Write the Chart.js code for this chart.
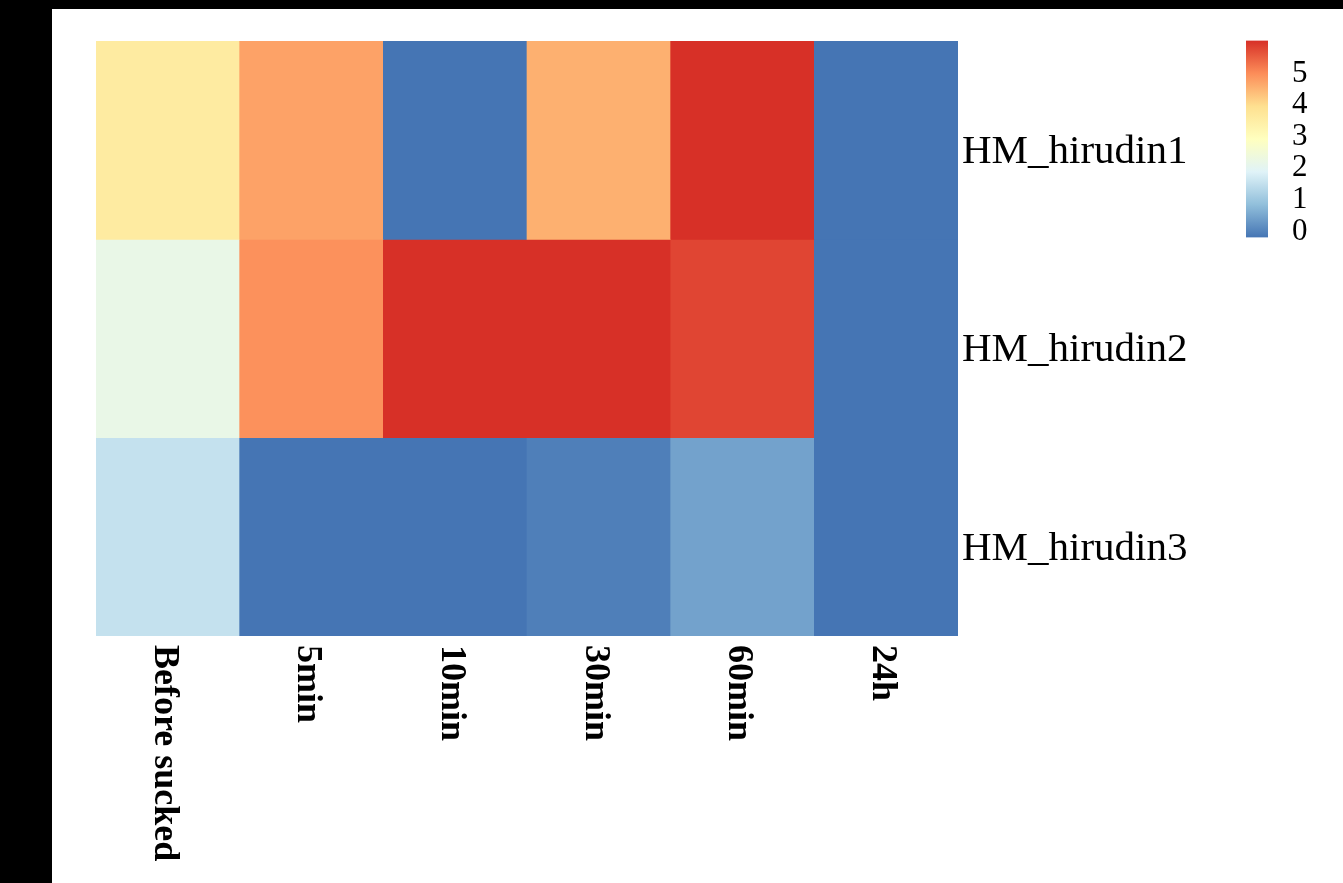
<!DOCTYPE html>
<html>
<head>
<meta charset="utf-8">
<title>HM_hirudin expression heatmap</title>
<script src="https://cdn.jsdelivr.net/npm/chart.js@4/dist/chart.umd.min.js"></script>
<style>
  html, body { margin: 0; padding: 0; background: #000; }
  body { width: 1343px; height: 883px; position: relative; overflow: hidden; }
  #sheet { position: absolute; left: 52px; top: 9px; width: 1291px; height: 874px; background: #fff; }
  #heat { position: absolute; left: 52px; top: 9px; }
  #scale { position: absolute; left: 1246px; top: -2px; }
</style>
</head>
<body>
<div id="sheet"></div>
<canvas id="heat" width="1146" height="874"></canvas>
<canvas id="scale" width="92" height="282"></canvas>
<script>
// Time points (columns) and genes (rows)
const timePoints = ['Before sucked', '5min', '10min', '30min', '60min', '24h'];
const genes = ['HM_hirudin1', 'HM_hirudin2', 'HM_hirudin3'];

// Expression values per gene, one per time point
const hirudin1 = [3.58, 4.74, -0.19, 4.56, 6.04, -0.19];
const hirudin2 = [2.20, 4.95, 6.04, 6.04, 5.80, -0.19];
const hirudin3 = [1.52, -0.19, -0.19, -0.05, 0.44, -0.19];

// Colour bar tick labels
const scaleTicks = [0, 1, 2, 3, 4, 5];

const rows = [hirudin1, hirudin2, hirudin3];
const allValues = rows.flat();
const vMin = Math.min(...allValues);
const vMax = Math.max(...allValues);

// Reversed RdYlBu palette, blue (low) to red (high)
const palette = ['#4575B4', '#91BFDB', '#E0F3F8', '#FFFFBF', '#FEE090', '#FC8D59', '#D73027'];

function hexToRgb(h) {
  const n = parseInt(h.slice(1), 16);
  return [(n >> 16) & 255, (n >> 8) & 255, n & 255];
}
const paletteRgb = palette.map(hexToRgb);

function colourFor(v) {
  let t = (v - vMin) / (vMax - vMin);
  t = Math.max(0, Math.min(1, t));
  const pos = t * (paletteRgb.length - 1);
  const i = Math.min(Math.floor(pos), paletteRgb.length - 2);
  const f = pos - i;
  const a = paletteRgb[i], b = paletteRgb[i + 1];
  const c = a.map((x, k) => Math.round(x + (b[k] - x) * f));
  return `rgb(${c[0]},${c[1]},${c[2]})`;
}

// Column labels written downward under each column
const columnLabels = {
  id: 'columnLabels',
  afterDraw(chart) {
    const ctx = chart.ctx;
    const xs = chart.scales.x;
    ctx.save();
    ctx.font = 'bold 36px "Liberation Serif"';
    ctx.fillStyle = '#000';
    ctx.textAlign = 'left';
    ctx.textBaseline = 'middle';
    timePoints.forEach((label, i) => {
      const x = xs.getPixelForValue(i);
      ctx.save();
      ctx.translate(x - 4, chart.chartArea.bottom + 9);
      ctx.rotate(Math.PI / 2);
      ctx.fillText(label, 0, 0);
      ctx.restore();
    });
    ctx.restore();
  }
};

// One dataset per gene; each cell is a floating bar spanning its row
const datasets = rows.map((values, r) => ({
  label: genes[r],
  data: values.map(() => [r, r + 1]),
  backgroundColor: values.map(colourFor),
  borderWidth: 0,
  barPercentage: 1,
  categoryPercentage: 1,
  grouped: false
}));

new Chart(document.getElementById('heat'), {
  type: 'bar',
  data: { labels: timePoints, datasets },
  options: {
    responsive: false,
    animation: false,
    layout: { autoPadding: false, padding: { left: 44, top: 32, right: 0, bottom: 247 } },
    plugins: { legend: { display: false }, tooltip: { enabled: false } },
    scales: {
      x: { display: false, offset: true },
      y: {
        type: 'linear',
        position: 'right',
        reverse: true,
        min: 0,
        max: genes.length,
        grid: { display: false, drawTicks: false },
        border: { display: false },
        afterBuildTicks: (scale) => { scale.ticks = genes.map((_, i) => ({ value: i + 0.5 })); },
        afterFit: (scale) => { scale.width = 240; },
        ticks: {
          padding: 4,
          labelOffset: 12,
          color: '#000',
          font: { family: 'Liberation Serif', size: 41 },
          callback: (v) => genes[Math.floor(v)]
        }
      }
    }
  },
  plugins: [columnLabels]
});

// Colour bar with its value scale
new Chart(document.getElementById('scale'), {
  type: 'bar',
  data: {
    labels: ['scale'],
    datasets: [{
      data: [[vMin, vMax]],
      borderWidth: 0,
      barPercentage: 1,
      categoryPercentage: 1,
      backgroundColor: ({ chart }) => {
        const area = chart.chartArea;
        if (!area) return palette[0];
        const g = chart.ctx.createLinearGradient(0, area.bottom, 0, area.top);
        palette.forEach((c, i) => g.addColorStop(i / (palette.length - 1), c));
        return g;
      }
    }]
  },
  options: {
    responsive: false,
    animation: false,
    layout: { autoPadding: false, padding: 0 },
    plugins: { legend: { display: false }, tooltip: { enabled: false } },
    scales: {
      x: { display: false },
      y: {
        position: 'right',
        min: vMin,
        max: vMax,
        grid: { display: false, drawTicks: false },
        border: { display: false },
        afterBuildTicks: (scale) => { scale.ticks = scaleTicks.map(v => ({ value: v })); },
        afterFit: (scale) => { scale.width = 70; },
        ticks: {
          padding: 24,
          color: '#000',
          font: { family: 'Liberation Serif', size: 31 },
          callback: (v) => String(v)
        }
      }
    }
  }
});
</script>
</body>
</html>
